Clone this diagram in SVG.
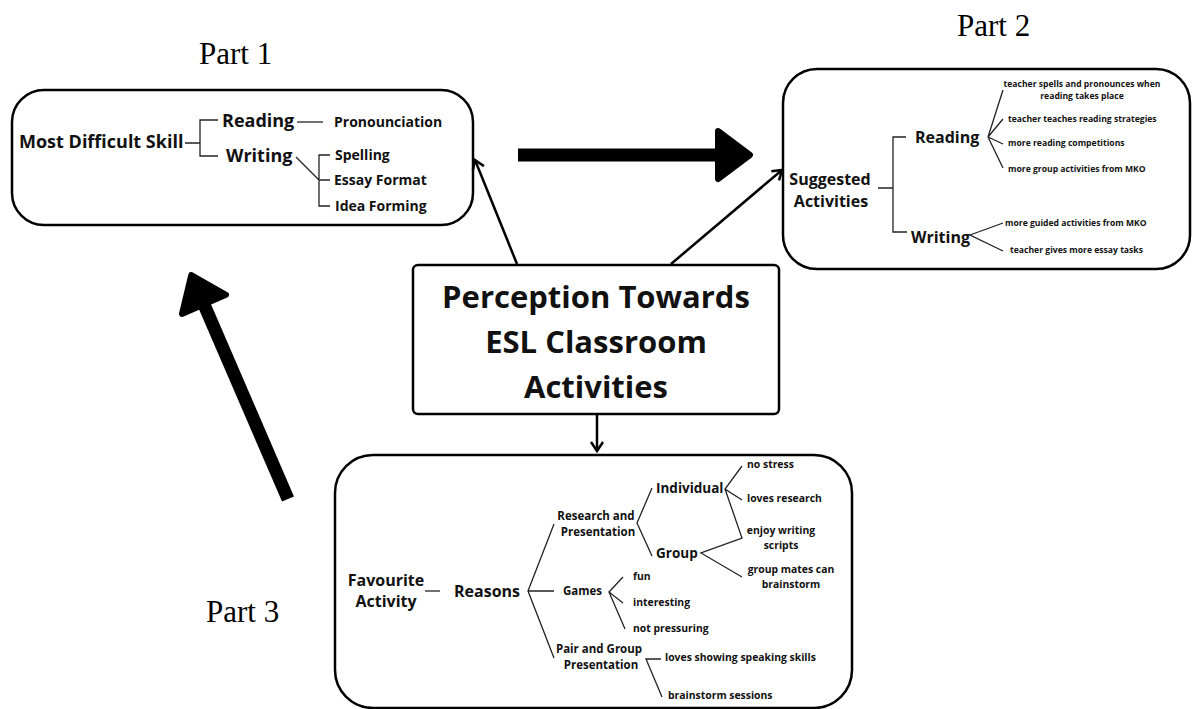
<svg xmlns="http://www.w3.org/2000/svg" width="1192" height="709" viewBox="0 0 1192 709">
  <style>
    .box { fill: #ffffff; stroke: #000000; stroke-width: 2.5; }
    .part { font-family: "Liberation Serif", "Times New Roman", serif; font-size: 31px; fill: #000000; }
    .t { font-family: "Open Sans", "Liberation Sans", sans-serif; font-weight: 700; fill: #111111; }
    .h1 { font-size: 31px; }
    .h2 { font-size: 18px; }
    .h2b { font-size: 16px; }
    .h3 { font-size: 13.5px; }
    .s14 { font-size: 14px; }
    .s12 { font-size: 11.5px; }
    .s11 { font-size: 10.4px; }
    .s9 { font-size: 8.6px; }
    .mid { text-anchor: middle; }
    .br { fill: none; stroke: #222222; stroke-width: 1.3; }
    .conn { fill: none; stroke: #000000; stroke-width: 2.5; }
    .big { fill: none; stroke: #000000; stroke-width: 13; }
    .head { fill: #000000; stroke: #000000; stroke-width: 6; stroke-linejoin: round; }
  </style>
  <defs>
    <marker id="open" markerUnits="userSpaceOnUse" markerWidth="16" markerHeight="16" refX="11" refY="7" orient="auto">
      <path d="M2,1 L11,7 L2,13" fill="none" stroke="#000000" stroke-width="2.5" stroke-linejoin="miter"/>
    </marker>
  </defs>

  <rect width="1192" height="709" fill="#ffffff"/>

  <!-- section labels -->
  <g id="labels">
    <text class="part" x="199" y="64">Part 1</text>
    <text class="part" x="957" y="36">Part 2</text>
    <text class="part" x="206" y="622">Part 3</text>
  </g>

  <!-- Part 1: most difficult skill -->
  <g id="node-difficult-skill">
    <rect class="box" x="12" y="90" width="461" height="135" rx="32"/>
    <text class="t h2" x="19" y="148">Most Difficult Skill</text>
    <path class="br" d="M185,143 H200 M218,120 H200 V156 H218"/>
    <text class="t h2" x="222" y="127">Reading</text>
    <path class="br" d="M297,122 H323"/>
    <text class="t s14" x="334" y="127">Pronounciation</text>
    <text class="t h2" x="226" y="162">Writing</text>
    <path class="br" d="M296,157 L319,180 M330,155 H319 V206 H330 M319,180 H330"/>
    <text class="t s14" x="335" y="160">Spelling</text>
    <text class="t s14" x="334" y="185">Essay Format</text>
    <text class="t s14" x="335" y="211">Idea Forming</text>
  </g>

  <!-- Part 2: suggested activities -->
  <g id="node-suggested-activities">
    <rect class="box" x="783" y="69" width="407" height="200" rx="34"/>
    <text class="t h2b mid" x="830" y="185">Suggested</text>
    <text class="t h2b mid" x="831" y="207">Activities</text>
    <path class="br" d="M878,188 H893 M906,137 H893 V232 H907"/>
    <text class="t h2b" x="915" y="143">Reading</text>
    <text class="t h2b" x="911" y="243">Writing</text>
    <path class="br" d="M1003,90 L988,137 L1003,119 M988,137 L1003,144 M988,137 L1003,168"/>
    <path class="br" d="M1003,223 L970,235 L1003,251"/>
    <text class="t s9 mid" x="1082" y="87">teacher spells and pronounces when</text>
    <text class="t s9 mid" x="1082" y="99">reading takes place</text>
    <text class="t s9" x="1008" y="122">teacher teaches reading strategies</text>
    <text class="t s9" x="1008" y="146">more reading competitions</text>
    <text class="t s9" x="1008" y="172">more group activities from MKO</text>
    <text class="t s9" x="1005" y="226">more guided activities from MKO</text>
    <text class="t s9" x="1010" y="253">teacher gives more essay tasks</text>
  </g>

  <!-- central topic -->
  <g id="node-topic">
    <rect class="box" x="413" y="265" width="366" height="149" rx="5"/>
    <text class="t h1 mid" x="596" y="308">Perception Towards</text>
    <text class="t h1 mid" x="596" y="353">ESL Classroom</text>
    <text class="t h1 mid" x="596" y="398">Activities</text>
  </g>

  <!-- Part 3: favourite activity -->
  <g id="node-favourite-activity">
    <rect class="box" x="335" y="455" width="517" height="253" rx="38"/>
    <text class="t h2b mid" x="386" y="586" font-size="15.5">Favourite</text>
    <text class="t h2b mid" x="386" y="607" font-size="15.5">Activity</text>
    <path class="br" d="M425,591 H440"/>
    <text class="t h2b" x="454" y="597">Reasons</text>
    <path class="br" d="M554,524 L528,591 L554,658 M528,591 H554"/>

    <text class="t s12 mid" x="596" y="520">Research and</text>
    <text class="t s12 mid" x="598" y="536">Presentation</text>
    <path class="br" d="M652,488 L637,523 L652,556"/>
    <text class="t h3" x="656" y="493">Individual</text>
    <text class="t h3" x="656" y="558">Group</text>
    <path class="br" d="M742,466 L725,489 L742,500 M725,489 L742,538 L701,553 L742,577"/>
    <text class="t s11" x="747" y="468">no stress</text>
    <text class="t s11" x="747" y="502">loves research</text>
    <text class="t s11 mid" x="781" y="534">enjoy writing</text>
    <text class="t s11 mid" x="781" y="549">scripts</text>
    <text class="t s11 mid" x="791" y="573">group mates can</text>
    <text class="t s11 mid" x="791" y="588">brainstorm</text>

    <text class="t s12" x="563" y="595" font-size="10.5">Games</text>
    <path class="br" d="M623,577 L609,592 L623,603 M609,592 L625,629"/>
    <text class="t s11" x="633" y="580">fun</text>
    <text class="t s11" x="633" y="606">interesting</text>
    <text class="t s11" x="633" y="632">not pressuring</text>

    <text class="t s12 mid" x="599" y="653">Pair and Group</text>
    <text class="t s12 mid" x="601" y="669">Presentation</text>
    <path class="br" d="M661,659 H646 L662,697"/>
    <text class="t s11" x="665" y="661">loves showing speaking skills</text>
    <text class="t s11" x="668" y="699">brainstorm sessions</text>
  </g>

  <!-- connectors -->
  <g id="connectors">
    <line class="conn" x1="517" y1="264" x2="475" y2="160" marker-end="url(#open)"/>
    <line class="conn" x1="671" y1="264" x2="782" y2="170" marker-end="url(#open)"/>
    <line class="conn" x1="597" y1="414" x2="597" y2="451" marker-end="url(#open)"/>
    <!-- bold flow arrow: Part 1 to Part 2 -->
    <line class="big" x1="518" y1="155" x2="722" y2="155"/>
    <polygon class="head" points="718,131 750,155 718,179"/>
    <!-- bold flow arrow: Part 3 to Part 1 -->
    <g transform="translate(288,499) rotate(-113.35)">
      <line class="big" x1="0" y1="0" x2="215" y2="0"/>
      <polygon class="head" points="212,-24 244,0 212,24"/>
    </g>
  </g>
</svg>
